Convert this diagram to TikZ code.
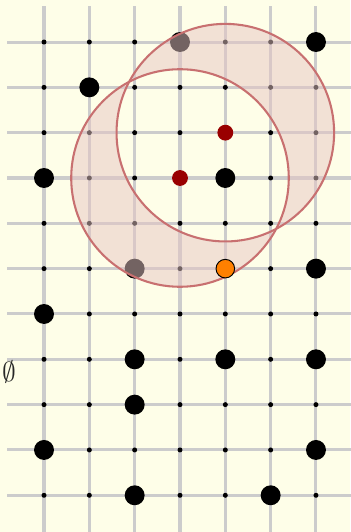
\documentclass[tikz,border=0pt]{standalone}
\usepackage{amsmath}
\usepackage{tikz}
\usetikzlibrary{positioning}

\definecolor{paper}{RGB}{254,254,232}
\definecolor{gridgray}{RGB}{204,204,204}
\definecolor{ringred}{RGB}{200,112,112}
\definecolor{ringfill}{RGB}{231,198,196}
\definecolor{ctrred}{RGB}{153,0,0}
\definecolor{pickor}{RGB}{255,128,0}

\begin{document}
\begin{tikzpicture}[
    gl/.style={draw=gridgray, line width=1.9pt},
    sd/.style={circle, fill=black, inner sep=0pt, minimum size=0.11cm},
    bd/.style={circle, fill=black, inner sep=0pt, minimum size=0.44cm},
    cd/.style={circle, fill=ctrred, inner sep=0pt, minimum size=0.35cm},
    od/.style={circle, draw=black, fill=pickor, line width=0.6pt, inner sep=0pt, minimum size=0.41cm},
    ring/.style={draw=ringred, line width=1.3pt},
    lens/.style={fill=ringfill, fill opacity=0.5, even odd rule},
]

% Paper
\fill[paper] (-0.971,0.927) rectangle (6.751,-10.81);
\useasboundingbox (-0.971,0.927) rectangle (6.751,-10.81);

% Grid
\foreach \i in {0,...,6}
    \draw[gl] (\i,0.79) -- (\i,-11);
\foreach \j in {0,...,10}
    \draw[gl] (-0.816,-\j) -- (7,-\j);

% Small dots
\foreach \i in {0,...,6}
    \foreach \j in {0,...,10}
        \node[sd] (s-\i-\j) at (\i,-\j) {};

% Big dots
\foreach \i/\j in {3/0, 6/0, 1/1, 0/3, 4/3, 2/5, 6/5, 0/6, 2/7, 4/7, 6/7,
                   2/8, 0/9, 6/9, 2/10, 5/10}
    \node[bd] (b-\i-\j) at (\i,-\j) {};

% Rings
\coordinate (ctrA) at (3,-3);
\coordinate (ctrB) at (4,-2);
\fill[lens] (ctrA) circle[radius=2.4] (ctrB) circle[radius=2.4];
\draw[ring] (ctrA) circle[radius=2.4];
\draw[ring] (ctrB) circle[radius=2.4];

% Centres and pick
\node[cd] (cA) at (ctrA) {};
\node[cd] (cB) at (ctrB) {};
\node[od] (pk) at (4,-5) {};

% Label
\node[text=black!85, font=\fontsize{16}{18}\selectfont] (emp) at (-0.77,-7.28) {$\emptyset$};
\end{tikzpicture}
\end{document}
